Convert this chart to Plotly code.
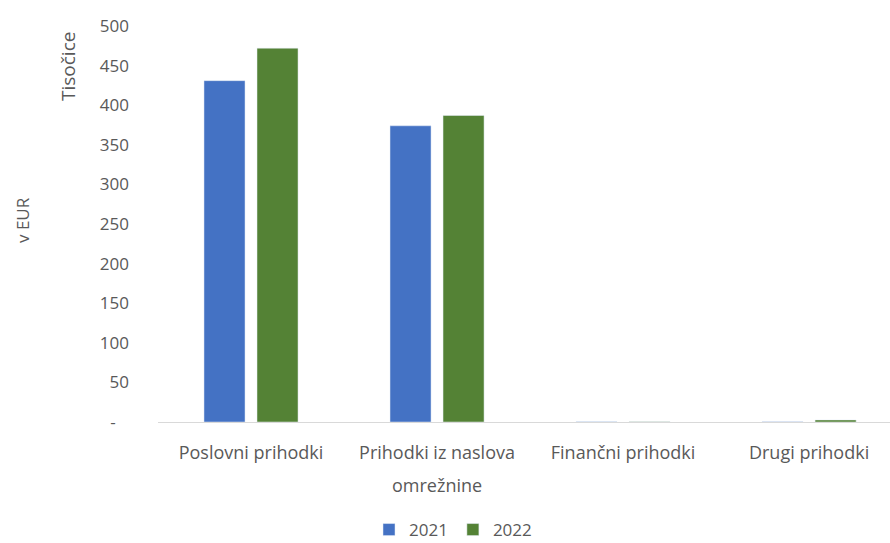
import plotly.graph_objects as go

categories = ["Poslovni prihodki", "Prihodki iz naslova", "Finančni prihodki", "Drugi prihodki"]
values_2021 = [431, 374, 0.4, 0.3]
values_2022 = [472, 387, 0.4, 2.6]
tick_vals = [0, 50, 100, 150, 200, 250, 300, 350, 400, 450, 500]
tick_text = ["-\u00a0\u00a0\u00a0", "50", "100", "150", "200", "250", "300", "350", "400", "450", "500"]

FONT = "Open Sans, sans-serif"
GREY = "#595959"

fig = go.Figure()
fig.add_trace(go.Bar(x=categories, y=values_2021, name="2021", marker={"color": "#4472C4"}))
fig.add_trace(go.Bar(x=categories, y=values_2022, name="2022", marker={"color": "#548235"}))

fig.update_layout(
    width=890,
    height=543,
    plot_bgcolor="white",
    paper_bgcolor="white",
    font={"family": FONT, "color": GREY, "size": 17},
    barmode="group",
    bargap=0.43,
    bargroupgap=0.226,
    margin={"l": 158, "r": 0, "t": 26, "b": 121},
    xaxis={
        "range": [-0.5, 3.435],
        "automargin": False,
        "showline": True,
        "linecolor": "#D9D9D9",
        "linewidth": 1,
        "showgrid": False,
        "ticks": "",
        "ticklabelstandoff": 14,
        "tickfont": {"size": 18, "color": GREY},
    },
    yaxis={
        "range": [0, 500],
        "automargin": False,
        "tickvals": tick_vals,
        "ticktext": tick_text,
        "showgrid": False,
        "zeroline": False,
        "ticks": "",
        "ticklabelstandoff": 28,
        "tickfont": {"size": 17, "color": GREY},
    },
    showlegend=True,
    legend={
        "orientation": "h",
        "x": 0.5 + 8 / 890,
        "xref": "container",
        "xanchor": "center",
        "y": 13 / 543,
        "yref": "container",
        "yanchor": "middle",
        "font": {"size": 17, "color": GREY},
        "itemwidth": 30,
        "tracegroupgap": 0,
    },
)

# second line of the wrapped category label (Excel uses wide line spacing)
fig.add_annotation(
    text="omrežnine", xref="x", yref="paper", x=1, y=-(485 - 422) / 396,
    xanchor="center", yanchor="middle", showarrow=False,
    font={"size": 18, "color": GREY},
)
fig.add_annotation(
    text="Tisočice", textangle=-90, xref="paper", yref="paper",
    x=(68 - 158) / 732, y=(422 - 67) / 396, xanchor="center", yanchor="middle", showarrow=False,
    font={"size": 19, "color": GREY},
)
fig.add_annotation(
    text="v EUR", textangle=-90, xref="paper", yref="paper",
    x=(22 - 158) / 732, y=(422 - 220) / 396, xanchor="center", yanchor="middle", showarrow=False,
    font={"size": 17, "color": GREY},
)

# the page body has a default 8px margin; drop it so the figure fills the window
fig.write_html(
    "out.html",
    config={"displayModeBar": False},
    post_script="document.body.style.margin='0px';",
)
